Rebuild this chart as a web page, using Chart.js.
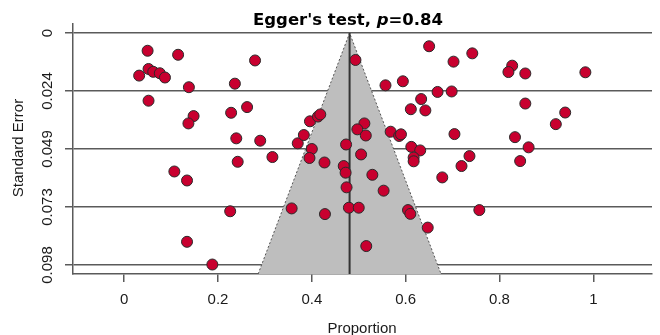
<!DOCTYPE html>
<html>
<head>
<meta charset="utf-8">
<script src="https://cdn.jsdelivr.net/npm/chart.js@4.4.0/dist/chart.umd.min.js"></script>
<style>
  html, body { margin: 0; padding: 0; background: #fff; }
  #wrap { width: 660px; height: 335px; }
</style>
</head>
<body>
<div id="wrap"><canvas id="funnelChart" width="660" height="335"></canvas></div>
<script>
// -------------------- DATA --------------------
const proportion = [
  0.050, 0.115, 0.052, 0.032, 0.062, 0.076, 0.087, 0.138, 0.236, 0.052,
  0.148, 0.137, 0.228, 0.262, 0.279, 0.239, 0.290, 0.370, 0.383, 0.396,
  0.413, 0.418, 0.400, 0.395, 0.427, 0.242, 0.316, 0.107, 0.134, 0.226,
  0.134, 0.188, 0.357, 0.428, 0.493, 0.557, 0.512, 0.497, 0.515, 0.473,
  0.505, 0.468, 0.472, 0.529, 0.474, 0.553, 0.479, 0.500, 0.516, 0.650,
  0.702, 0.742, 0.827, 0.819, 0.855, 0.983, 0.594, 0.668, 0.698, 0.633,
  0.611, 0.642, 0.855, 0.940, 0.920, 0.568, 0.586, 0.590, 0.704, 0.833,
  0.612, 0.631, 0.862, 0.736, 0.719, 0.617, 0.617, 0.844, 0.678, 0.605,
  0.610, 0.647, 0.757
];
const stdError = [
  0.0075, 0.0092, 0.0152, 0.0180, 0.0164, 0.0170, 0.0188, 0.0229, 0.0214, 0.0286,
  0.0351, 0.0382, 0.0337, 0.0313, 0.0116, 0.0445, 0.0455, 0.0466, 0.0431, 0.0373,
  0.0353, 0.0344, 0.0490, 0.0528, 0.0547, 0.0544, 0.0524, 0.0585, 0.0623, 0.0753,
  0.0882, 0.0978, 0.0741, 0.0765, 0.0114, 0.0221, 0.0382, 0.0407, 0.0433, 0.0471,
  0.0513, 0.0562, 0.0590, 0.0599, 0.0652, 0.0666, 0.0738, 0.0738, 0.0900, 0.0056,
  0.0121, 0.0086, 0.0138, 0.0165, 0.0171, 0.0166, 0.0204, 0.0249, 0.0247, 0.0279,
  0.0322, 0.0327, 0.0298, 0.0336, 0.0385, 0.0417, 0.0435, 0.0428, 0.0427, 0.0440,
  0.0481, 0.0496, 0.0483, 0.0520, 0.0562, 0.0526, 0.0542, 0.0541, 0.0610, 0.0748,
  0.0764, 0.0822, 0.0748
];

const xTicks = [0, 0.2, 0.4, 0.6, 0.8, 1];
const xTickLabels = ["0", "0.2", "0.4", "0.6", "0.8", "1"];
const yTicks = [0, 0.0245, 0.049, 0.0735, 0.098];
const yTickLabels = ["0", "0.024", "0.049", "0.073", "0.098"];

const pooled = 0.4805;      // summary proportion (funnel apex)
const zFunnel = 1.915;      // funnel half-width per unit of SE
const xLimits = [-0.109, 1.125];
const seLimits = [-0.0038, 0.1018];

// -------------------- HELPERS --------------------
const points = proportion.map((p, i) => ({ x: p, y: stdError[i] }));
const seMax = seLimits[1];
const funnel = [
  { x: pooled - zFunnel * seMax, y: seMax },
  { x: pooled, y: 0 },
  { x: pooled + zFunnel * seMax, y: seMax },
];
const centreLine = [{ x: pooled, y: 0 }, { x: pooled, y: seMax }];

const axisGray = "#5a5a5a";
const sansFont = '"Liberation Sans", Arial, sans-serif';

// -------------------- TEXT PLUGIN --------------------
const textPlugin = {
  id: "funnelText",
  afterDraw(chart) {
    const { ctx, scales: { y } } = chart;
    ctx.save();
    ctx.fillStyle = "#1a1a1a";

    // y tick labels, rotated like base R
    ctx.font = "15px " + sansFont;
    ctx.textAlign = "center";
    ctx.textBaseline = "middle";
    yTicks.forEach((v, i) => {
      ctx.save();
      ctx.translate(48, y.getPixelForValue(v));
      ctx.rotate(-Math.PI / 2);
      ctx.fillText(yTickLabels[i], 0, 0);
      ctx.restore();
    });

    // axis titles
    ctx.save();
    ctx.translate(19, 148);
    ctx.rotate(-Math.PI / 2);
    ctx.fillText("Standard Error", 0, 0);
    ctx.restore();

    ctx.textBaseline = "alphabetic";
    ctx.fillText("Proportion", 362, 333);

    // main title: "Egger's test, p=0.84" with italic p
    const parts = [
      { t: "Egger's test, ", f: "bold 16.5px DejaVu Sans, Verdana, sans-serif" },
      { t: "p", f: "italic bold 16.5px DejaVu Sans, Verdana, sans-serif" },
      { t: "=0.84", f: "bold 16.5px DejaVu Sans, Verdana, sans-serif" },
    ];
    let total = 0;
    parts.forEach((p) => { ctx.font = p.f; p.w = ctx.measureText(p.t).width; total += p.w; });
    let x = 348 - total / 2;
    ctx.textAlign = "left";
    ctx.fillStyle = "#000";
    parts.forEach((p) => { ctx.font = p.f; ctx.fillText(p.t, x, 25); x += p.w; });
    ctx.restore();
  },
};

// -------------------- CHART --------------------
const ctx = document.getElementById("funnelChart").getContext("2d");
new Chart(ctx, {
  type: "scatter",
  data: {
    datasets: [
      {
        label: "Studies",
        data: points,
        order: 0,
        pointRadius: 5.5,
        pointBorderWidth: 1,
        pointBackgroundColor: "#c8002f",
        pointBorderColor: "#2a2a2a",
      },
      {
        label: "Pooled",
        data: centreLine,
        order: 1,
        showLine: true,
        borderColor: "#333",
        borderWidth: 2,
        pointRadius: 0,
      },
      {
        label: "Funnel",
        data: funnel,
        order: 2,
        showLine: true,
        borderColor: "#555",
        borderWidth: 1,
        borderDash: [2, 2],
        backgroundColor: "#bebebe",
        fill: { target: { value: seMax } },
        pointRadius: 0,
        tension: 0,
      },
    ],
  },
  options: {
    responsive: false,
    animation: false,
    layout: { padding: { top: 24, right: 8, left: 0, bottom: 0 } },
    plugins: { legend: { display: false }, tooltip: { enabled: false } },
    scales: {
      x: {
        type: "linear",
        min: xLimits[0],
        max: xLimits[1],
        afterBuildTicks: (s) => { s.ticks = xTicks.map((v) => ({ value: v })); },
        afterFit: (s) => { s.height = 61; },
        grid: { drawOnChartArea: false, drawTicks: true, tickLength: 8, color: axisGray, lineWidth: 1.5 },
        border: { display: true, color: axisGray, width: 1.5 },
        ticks: {
          font: { family: sansFont, size: 15 },
          color: "#1a1a1a",
          padding: 9,
          maxRotation: 0,
          callback: (v) => xTickLabels[xTicks.indexOf(v)],
        },
      },
      y: {
        type: "linear",
        reverse: true,
        min: seLimits[0],
        max: seLimits[1],
        afterBuildTicks: (s) => { s.ticks = yTicks.map((v) => ({ value: v })); },
        afterFit: (s) => { s.width = 73; },
        grid: { drawTicks: true, tickLength: 8, color: axisGray, lineWidth: 1.5 },
        border: { display: true, color: axisGray, width: 1.5 },
        ticks: { display: false },
      },
    },
  },
  plugins: [textPlugin],
});
</script>
</body>
</html>
